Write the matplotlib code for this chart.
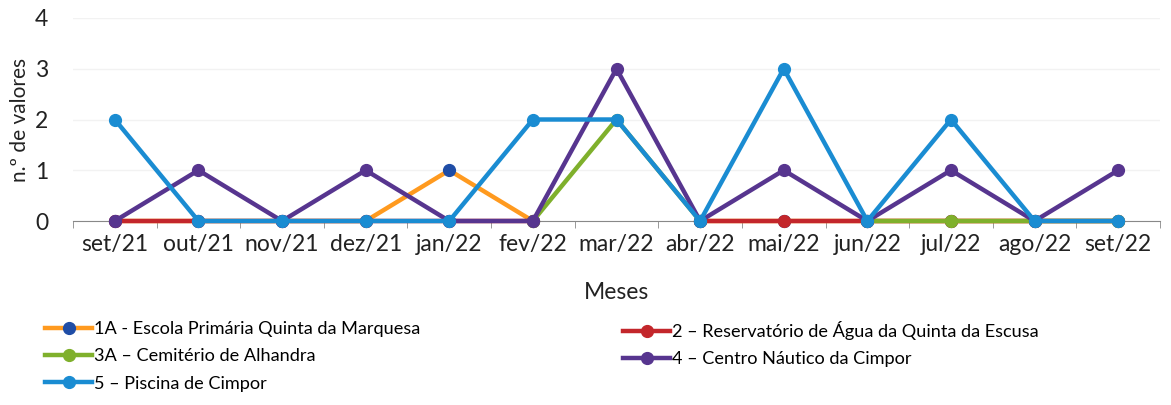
import matplotlib.pyplot as plt
import numpy as np

plt.rcParams["font.family"] = ["Lato", "DejaVu Sans"]

nan = np.nan
meses = ["set/21", "out/21", "nov/21", "dez/21", "jan/22", "fev/22", "mar/22",
         "abr/22", "mai/22", "jun/22", "jul/22", "ago/22", "set/22"]

# meses sem amostragem ficam como nan (o Excel deixa um intervalo na linha)
escola_1a = [0, 0, 0, 0, 1, 0, nan, 0, 0, 0, 0, 0, 0]
reservatorio_2 = [0, 0, 0, 0, 0, 0, nan, 0, 0, 0, 0, 0, 0]
cemiterio_3a = [nan, nan, nan, nan, nan, 0, 2, 0, nan, 0, 0, 0, 0]
nautico_4 = [0, 1, 0, 1, 0, 0, 3, 0, 1, 0, 1, 0, 1]
piscina_5 = [2, 0, 0, 0, 0, 2, 2, 0, 3, 0, 2, 0, 0]

nomes = ["1A - Escola Primária Quinta da Marquesa",
         "2 – Reservatório de Água da Quinta da Escusa",
         "3A – Cemitério de Alhandra",
         "4 – Centro Náutico da Cimpor",
         "5 – Piscina de Cimpor"]
series = [escola_1a, reservatorio_2, cemiterio_3a, nautico_4, piscina_5]
cores = ["#FF9A1F", "#C3262B", "#7FB02C", "#57358F", "#1A8CD2"]
cores_marcador = ["#1F4DA6", "#C3262B", "#7FB02C", "#57358F", "#1A8CD2"]

fig = plt.figure(figsize=(11.71, 4.05), dpi=100)
ax = fig.add_axes([73 / 1171, 1 - 221 / 405, (1160 - 73) / 1171, (221 - 18) / 405])

x = list(range(len(meses)))
handles = []
for vals, nome, cor, cm in zip(series, nomes, cores, cores_marcador):
    h, = ax.plot(x, vals, color=cor, lw=3.2, marker="o", ms=8.5,
                 markerfacecolor=cm, markeredgecolor=cm, label=nome,
                 solid_joinstyle="round", clip_on=False, zorder=3)
    handles.append(h)

ax.set_xlim(-0.5, len(meses) - 0.5)
ax.set_ylim(0, 4)
ax.set_yticks([0, 1, 2, 3, 4])
ax.set_xticks(x)
ax.set_xticklabels(meses)
ax.set_xticks([i - 0.5 for i in range(len(meses) + 1)], minor=True)
ax.tick_params(axis="x", which="major", length=0, labelsize=16.5, pad=9, colors="#222222")
ax.tick_params(axis="x", which="minor", length=5, color="#888888", direction="out")
ax.tick_params(axis="y", length=0, labelsize=16.5, pad=18, colors="#222222")
ax.grid(axis="y", color="#F2F2F2", lw=1)
for s in ["top", "right", "left"]:
    ax.spines[s].set_visible(False)
ax.spines["bottom"].set_color("#888888")
ax.spines["bottom"].set_zorder(1)

ax.set_xlabel("Meses", fontsize=16.5, color="#222222", labelpad=20)
ax.set_ylabel("n.º de valores", fontsize=15, color="#222222")
ax.yaxis.set_label_coords(-0.040, 0.5)

kw = dict(frameon=False, fontsize=13.1, handlelength=2.6, handletextpad=0.1,
          labelspacing=0.62, borderpad=0, borderaxespad=0)
fig.legend([handles[0], handles[2], handles[4]], [nomes[0], nomes[2], nomes[4]],
           loc="upper left", bbox_to_anchor=(45 / 1171, 1 - 321 / 405), **kw)
fig.legend([handles[1], handles[3]], [nomes[1], nomes[3]],
           loc="upper left", bbox_to_anchor=(623 / 1171, 1 - 321 / 405), **kw)

fig.savefig("out.png", dpi=100)
